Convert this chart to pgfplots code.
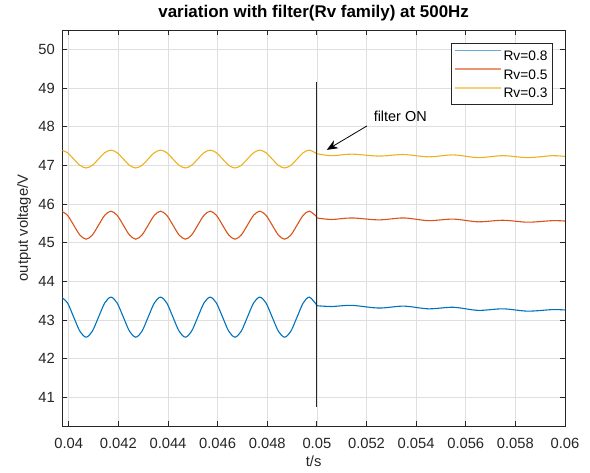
\documentclass[border=0pt]{standalone}
\usepackage{fontspec}
\setmainfont{Liberation Sans}
\usepackage{pgfplots}
\usepackage{pgfplotstable}
\pgfplotsset{compat=1.18}
\usetikzlibrary{arrows.meta}

\definecolor{mblue}{rgb}{0,0.447,0.741}
\definecolor{morange}{rgb}{0.85,0.325,0.098}
\definecolor{myellow}{rgb}{0.929,0.694,0.125}
\definecolor{axgray}{rgb}{0.15,0.15,0.15}
\definecolor{gridc}{RGB}{223,223,223}

% before the filter is switched on (t < 0.05)
\pgfplotstableread{
t rv08 rv05 rv03
0.03970 43.593 45.815 47.394
0.03995 43.441 45.709 47.326
0.04020 43.075 45.453 47.163
0.04045 42.709 45.197 47.000
0.04070 42.557 45.091 46.932
0.04095 42.709 45.197 47.000
0.04120 43.075 45.453 47.163
0.04145 43.441 45.709 47.326
0.04170 43.593 45.815 47.394
0.04195 43.441 45.709 47.326
0.04220 43.075 45.453 47.163
0.04245 42.709 45.197 47.000
0.04270 42.557 45.091 46.932
0.04295 42.709 45.197 47.000
0.04320 43.075 45.453 47.163
0.04345 43.441 45.709 47.326
0.04370 43.593 45.815 47.394
0.04395 43.441 45.709 47.326
0.04420 43.075 45.453 47.163
0.04445 42.709 45.197 47.000
0.04470 42.557 45.091 46.932
0.04495 42.709 45.197 47.000
0.04520 43.075 45.453 47.163
0.04545 43.441 45.709 47.326
0.04570 43.593 45.815 47.394
0.04595 43.441 45.709 47.326
0.04620 43.075 45.453 47.163
0.04645 42.709 45.197 47.000
0.04670 42.557 45.091 46.932
0.04695 42.709 45.197 47.000
0.04720 43.075 45.453 47.163
0.04745 43.441 45.709 47.326
0.04770 43.593 45.815 47.394
0.04795 43.441 45.709 47.326
0.04820 43.075 45.453 47.163
0.04845 42.709 45.197 47.000
0.04870 42.557 45.091 46.932
0.04895 42.709 45.197 47.000
0.04920 43.075 45.453 47.163
0.04945 43.441 45.709 47.326
0.04970 43.593 45.815 47.394
0.05000 43.380 45.666 47.299
}\before

% after the filter is switched on
\pgfplotstableread{
t rv08 rv05 rv03
0.0500 43.37 45.64 47.30
0.0506 43.35 45.60 47.25
0.0514 43.38 45.64 47.29
0.0525 43.31 45.59 47.24
0.0535 43.36 45.64 47.28
0.0545 43.29 45.57 47.22
0.0555 43.33 45.61 47.27
0.0565 43.25 45.54 47.20
0.0575 43.29 45.58 47.25
0.0585 43.23 45.53 47.20
0.0595 43.27 45.57 47.25
0.0600 43.26 45.56 47.23
}\after

\begin{document}
\begin{tikzpicture}
\begin{axis}[
    scale only axis,
    width=502.7bp, height=396bp,
    xmin=0.03974, xmax=0.06,
    ymin=40.26, ymax=50.5,
    xtick={0.04,0.042,0.044,0.046,0.048,0.05,0.052,0.054,0.056,0.058,0.06},
    xticklabels={0.04,0.042,0.044,0.046,0.048,0.05,0.052,0.054,0.056,0.058,0.06},
    ytick={41,42,43,44,45,46,47,48,49,50},
    /pgf/number format/assume math mode=true,
    grid=major,
    major grid style={gridc, line width=0.6bp},
    axis line style={axgray, line width=0.8bp},
    tick style={axgray, line width=0.8bp},
    tick align=inside,
    major tick length=5bp,
    tick label style={font=\fontsize{14.8}{16}\selectfont, text=axgray},
    xticklabel style={anchor=base, yshift=-22.3bp},
    yticklabel style={anchor=east, inner sep=0pt, xshift=-7.3bp},
    xlabel={t/s},
    ylabel={output voltage/V},
    label style={font=\fontsize{14.8}{16}\selectfont, text=axgray},
    xlabel style={at={(axis description cs:0.5,-0.0884)}, anchor=center},
    ylabel style={at={(axis description cs:-0.0762,0.5)}, anchor=center},
    every axis title shift=0pt,
    title={variation with filter(Rv family) at 500Hz},
    title style={font=\bfseries\fontsize{17}{19}\selectfont,
        at={(axis description cs:0.5,1.0429)}, anchor=center},
    legend style={at={(axis description cs:1,1)}, anchor=north east,
        xshift=-12.7bp, yshift=-13.3bp,
        font=\fontsize{13.8}{15}\selectfont,
        draw=axgray, line width=0.6bp, fill=white,
        inner xsep=2.5bp, inner ysep=2.3bp, row sep=0bp,
        nodes={inner xsep=2bp, inner ysep=4.4bp, text height=10bp, text depth=0bp},
        cells={anchor=west}},
    legend image code/.code={\draw[#1, line width=1.3bp, opacity=0.6] (0bp,5bp) -- (46bp,5bp);},
]
\addplot[mblue, line width=1.1bp, smooth] table[x=t, y=rv08] {\before};
\addlegendentry{Rv=0.8}
\addplot[morange, line width=1.1bp, smooth] table[x=t, y=rv05] {\before};
\addlegendentry{Rv=0.5}
\addplot[myellow, line width=1.1bp, smooth] table[x=t, y=rv03] {\before};
\addlegendentry{Rv=0.3}

\addplot[mblue, line width=1.1bp, smooth, forget plot] table[x=t, y=rv08] {\after};
\addplot[morange, line width=1.1bp, smooth, forget plot] table[x=t, y=rv05] {\after};
\addplot[myellow, line width=1.1bp, smooth, forget plot] table[x=t, y=rv03] {\after};

% filter switch instant
\addplot[black!85, line width=0.9bp, forget plot] coordinates {(0.05,40.76) (0.05,49.15)};

\draw[-{Stealth[length=11bp, width=9bp]}, line width=0.8bp, black]
    (axis cs:0.05202,48.02) -- (axis cs:0.0504,47.40);
\node[font=\fontsize{14.5}{16}\selectfont, text=black] at (axis cs:0.05336,48.26) {filter ON};

\coordinate (sw) at (rel axis cs:0,0);
\end{axis}
\pgfresetboundingbox
\path (sw) ++(-62.3bp,-47bp) rectangle ++(590bp,473bp);
\end{tikzpicture}
\end{document}
